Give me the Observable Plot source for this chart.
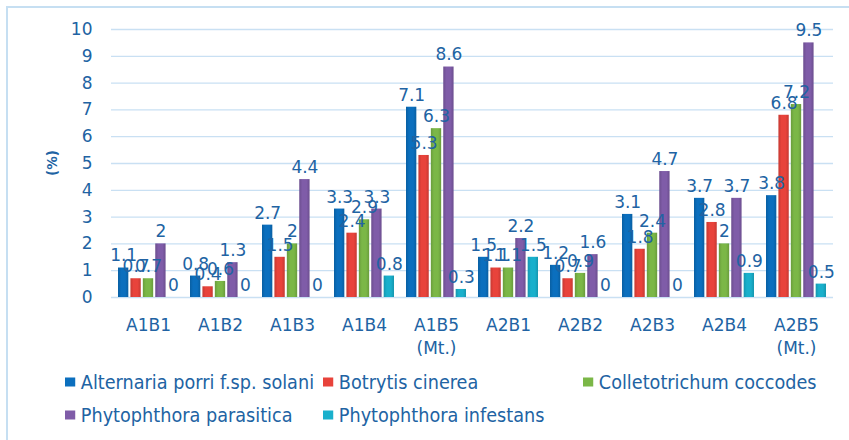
<!DOCTYPE html>
<html>
<head>
<meta charset="utf-8">
<script src="https://cdn.jsdelivr.net/npm/d3@7"></script>
<script src="https://cdn.jsdelivr.net/npm/@observablehq/plot@0.6"></script>
<style>
  html, body { margin: 0; padding: 0; background: #fff; }
  #wrap { position: relative; width: 849px; height: 440px; overflow: hidden; }
  #border { position: absolute; left: 6px; top: 6px; width: 900px; height: 500px;
            border-left: 2px solid #C6DFF2; border-top: 2px solid #C6DFF2; }
  #chart { position: absolute; left: 0; top: 0; }
  .legend { position: absolute; font-family: "DejaVu Sans", sans-serif; font-size: 19px;
            color: #2163A3; white-space: nowrap; line-height: 1;
            transform-origin: 0 50%; transform: translateY(-50%) scaleX(0.93); }
  .legend .sw { display: inline-block; width: 11px; height: 9px; margin-right: 6px; vertical-align: 2px; }
  #ylab { position: absolute; left: 52px; top: 163px; transform: translate(-50%,-50%) rotate(-90deg);
          font-family: "DejaVu Sans", sans-serif; font-weight: bold; font-size: 13.5px; color: #2163A3; }
</style>
</head>
<body>
<div id="wrap">
  <div id="border"></div>
  <div id="chart"></div>
  <div id="ylab">(%)</div>
</div>
<script>
const categories = ["A1B1", "A1B2", "A1B3", "A1B4", "A1B5\n(Mt.)", "A2B1", "A2B2", "A2B3", "A2B4", "A2B5\n(Mt.)"];
const seriesNames = ["Alternaria porri f.sp. solani", "Botrytis cinerea", "Colletotrichum coccodes", "Phytophthora parasitica", "Phytophthora infestans"];
const alternaria   = [1.1, 0.8, 2.7, 3.3, 7.1, 1.5, 1.2, 3.1, 3.7, 3.8];
const botrytis     = [0.7, 0.4, 1.5, 2.4, 5.3, 1.1, 0.7, 1.8, 2.8, 6.8];
const colletotrichum = [0.7, 0.6, 2.0, 2.9, 6.3, 1.1, 0.9, 2.4, 2.0, 7.2];
const parasitica   = [2.0, 1.3, 4.4, 3.3, 8.6, 2.2, 1.6, 4.7, 3.7, 9.5];
const infestans    = [0.0, 0.0, 0.0, 0.8, 0.3, 1.5, 0.0, 0.0, 0.9, 0.5];
const yTicks = [0, 1, 2, 3, 4, 5, 6, 7, 8, 9, 10];
const colors = ["#0B6FBE", "#E8433B", "#7BB747", "#7F5CA8", "#19B0CC"];

const seriesValues = [alternaria, botrytis, colletotrichum, parasitica, infestans];
const data = [];
categories.forEach((c, i) => {
  seriesNames.forEach((s, j) => data.push({cat: c, series: s, idx: j, value: seriesValues[j][i]}));
});

const W = 849, mL = 111, mR = 16;
const pIn = 0.14, pOut = 0.07;
const step = (W - mL - mR) / (categories.length - pIn + 2 * pOut);
const bw = step * (1 - pIn);
const slot = bw / seriesNames.length;
const gap = 1;

const textColor = "#2163A3";
const marks = [Plot.ruleY(yTicks, {stroke: "#C9E0F3", strokeWidth: 1.3})];
seriesNames.forEach((s, j) => {
  const sub = data.filter(d => d.idx === j);
  marks.push(Plot.barY(sub, {x: "cat", y: "value", fill: `url(#grad${j})`,
    insetLeft: j * slot + gap, insetRight: (seriesNames.length - 1 - j) * slot + gap}));
});
seriesNames.forEach((s, j) => {
  const sub = data.filter(d => d.idx === j);
  marks.push(Plot.text(sub, {x: "cat", y: "value", text: d => String(d.value),
    dx: (j - (seriesNames.length - 1) / 2) * slot, dy: -12, fill: textColor, fontSize: 17}));
});
marks.push(Plot.axisX({tickSize: 0, tickPadding: 17, lineHeight: 1.35, label: null, fontSize: 17}));
marks.push(Plot.axisY({ticks: yTicks, tickSize: 0, tickPadding: 19, label: null, fontSize: 17}));

const chart = Plot.plot({
  width: W,
  height: 360,
  marginLeft: mL,
  marginRight: mR,
  marginTop: 29,
  marginBottom: 63,
  style: {fontFamily: "DejaVu Sans, sans-serif", fontSize: "17px", color: textColor, background: "transparent"},
  x: {domain: categories, paddingInner: pIn, paddingOuter: pOut},
  y: {domain: [0, 10]},
  marks
});

// gradient shading for bars
const ns = "http://www.w3.org/2000/svg";
const defs = document.createElementNS(ns, "defs");
colors.forEach((c, j) => {
  const g = document.createElementNS(ns, "linearGradient");
  g.setAttribute("id", `grad${j}`);
  g.setAttribute("x1", "0"); g.setAttribute("x2", "1"); g.setAttribute("y1", "0"); g.setAttribute("y2", "0");
  const dark = d3.color(c).darker(0.45).formatHex();
  [[0, dark], [0.3, c], [0.7, c], [1, dark]].forEach(([o, col]) => {
    const st = document.createElementNS(ns, "stop");
    st.setAttribute("offset", o);
    st.setAttribute("stop-color", col);
    g.appendChild(st);
  });
  defs.appendChild(g);
});
chart.insertBefore(defs, chart.firstChild);
document.getElementById("chart").appendChild(chart);

// Legend (HTML, below the SVG)
const legendPos = [[65, 382], [323, 382], [583, 382], [65, 415], [323, 415]];
const wrap = document.getElementById("wrap");
seriesNames.forEach((s, i) => {
  const el = document.createElement("div");
  el.className = "legend";
  el.style.left = legendPos[i][0] + "px";
  el.style.top = legendPos[i][1] + "px";
  el.innerHTML = `<span class="sw" style="background:${colors[i]}"></span>${s}`;
  wrap.appendChild(el);
});
</script>
</body>
</html>
